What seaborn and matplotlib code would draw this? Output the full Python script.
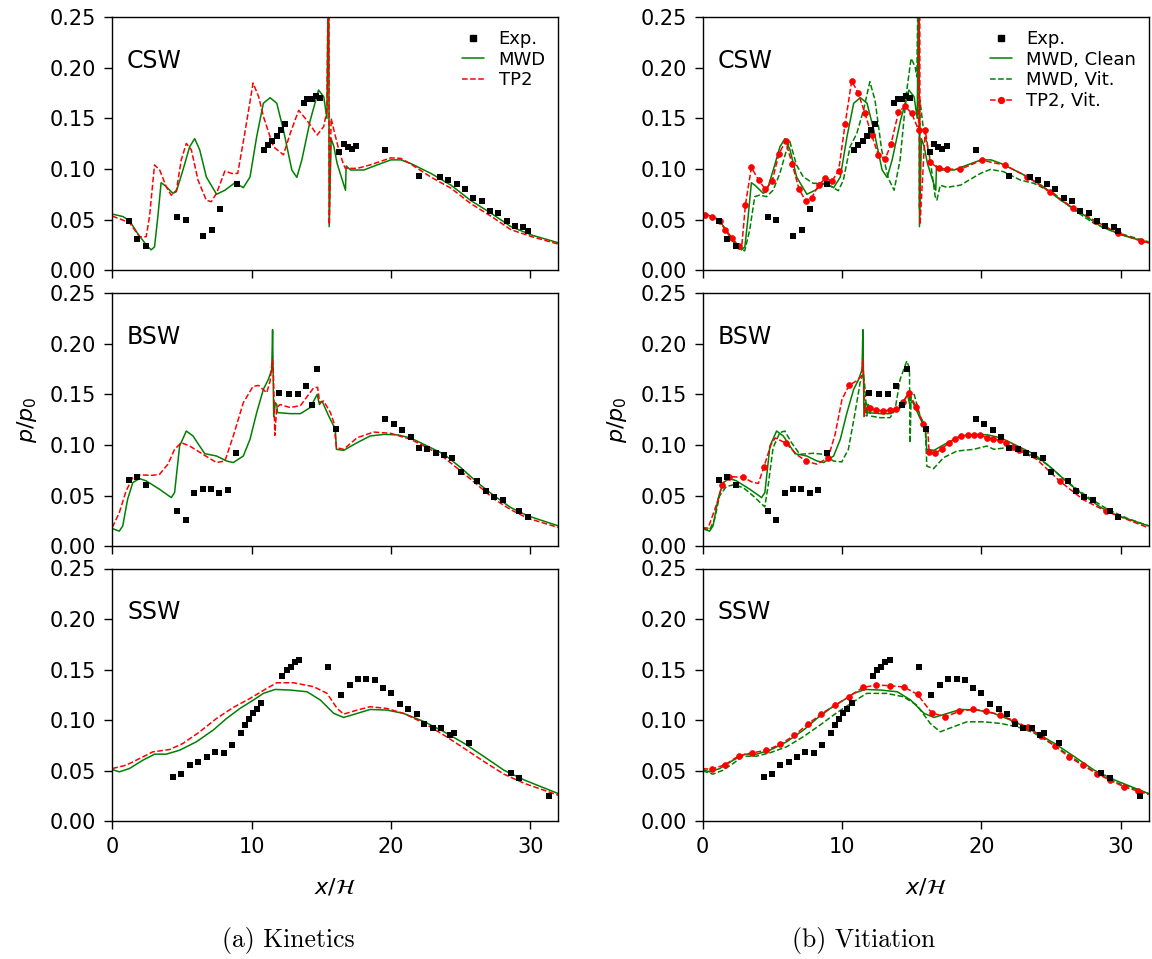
import matplotlib
matplotlib.use("Agg")
import matplotlib.pyplot as plt
from matplotlib.lines import Line2D
from matplotlib.ticker import FormatStrFormatter
import seaborn as sns

# ---------------- data ----------------
cases = ["CSW", "BSW", "SSW"]

# Experiment
csw_exp_x = [1.18, 1.78, 2.4, 4.66, 5.29, 6.49, 7.12, 7.72, 8.92, 10.87, 11.18, 11.49, 11.8, 12.09, 12.38,
             13.73, 14.0, 14.3, 14.6, 14.9, 16.3, 16.6, 16.9, 17.19, 17.5, 19.6, 22.0, 23.5, 24.1, 24.7,
             25.3, 25.9, 26.5, 27.1, 27.7, 28.3, 28.9, 29.5, 29.8]
csw_exp_y = [0.049, 0.031, 0.0234, 0.0528, 0.0495, 0.0336, 0.040, 0.060, 0.0848, 0.119, 0.1237, 0.128, 0.133, 0.139,
             0.144, 0.165, 0.1695, 0.169, 0.1725, 0.170, 0.1168, 0.1243, 0.122, 0.1197, 0.123, 0.119, 0.0927,
             0.0923, 0.089, 0.085, 0.0798, 0.0716, 0.0686, 0.0587, 0.056, 0.0485, 0.0435, 0.0429, 0.039]
bsw_exp_x = [1.18, 1.78, 2.4, 4.66, 5.29, 5.89, 6.49, 7.09, 7.69, 8.29, 8.89, 11.97, 12.69, 13.3, 13.9, 14.3,
             14.69, 16.06, 19.6, 20.2, 20.8, 21.4, 22.0, 22.6, 23.2, 23.8, 24.4, 25.0, 26.2, 26.8, 27.4, 28.0,
             29.2, 29.8]
bsw_exp_y = [0.0658, 0.068, 0.060, 0.0345, 0.0257, 0.0523, 0.0566, 0.0569, 0.0523, 0.0553, 0.0921, 0.1516,
             0.150, 0.150, 0.158, 0.1395, 0.1753, 0.116, 0.1257, 0.1207, 0.1145, 0.108, 0.0974, 0.0964, 0.0924,
             0.0898, 0.0872, 0.0737, 0.0645, 0.0546, 0.0484, 0.046, 0.0345, 0.029]
ssw_exp_x = [4.38, 4.95, 5.58, 6.18, 6.78, 7.38, 7.98, 8.58, 9.2, 9.5, 9.78, 10.1, 10.38, 10.7, 12.21, 12.5,
             12.81, 13.1, 13.41, 15.5, 16.4, 17.02, 17.62, 18.22, 18.82, 19.42, 20.0, 20.65, 21.25, 21.83,
             22.4, 23.0, 23.6, 24.2, 24.5, 25.6, 28.6, 29.2, 31.35]
ssw_exp_y = [0.0436, 0.0472, 0.0561, 0.0591, 0.0634, 0.0687, 0.0677, 0.0753, 0.0875, 0.0951, 0.1007, 0.107,
             0.1113, 0.1172, 0.1433, 0.1493, 0.1529, 0.1572, 0.1595, 0.1522, 0.1252, 0.1344, 0.141, 0.141,
             0.1397, 0.1321, 0.1268, 0.1156, 0.1113, 0.1057, 0.0958, 0.0925, 0.0921, 0.0855, 0.0875, 0.077,
             0.0476, 0.0433, 0.0251]

# MWD (clean)
csw_mwd_x = [0, 0.75, 1.23, 1.83, 2.43, 2.79, 3.03, 3.27, 3.5, 3.75, 4.35, 4.59, 5.07, 5.55, 5.91, 6.27, 6.75,
             7.48, 8.08, 8.8, 9.4, 9.88, 10.36, 10.84, 11.32, 11.8, 12.28, 12.88, 13.24, 13.6, 14.2, 14.8,
             15.17, 15.4, 15.5, 15.53, 15.56, 15.7, 15.9, 16.13, 16.73, 16.78, 17.1, 18.05, 19.0, 19.98, 20.7,
             21.4, 22.86, 24.3, 25.7, 27.2, 28.6, 30.1, 32]
csw_mwd_y = [0.0554, 0.053, 0.049, 0.036, 0.025, 0.020, 0.023, 0.053, 0.0864, 0.084, 0.076, 0.0775, 0.099,
             0.122, 0.130, 0.119, 0.092, 0.075, 0.079, 0.0864, 0.0815, 0.092, 0.132, 0.165, 0.1705, 0.165,
             0.1385, 0.099, 0.0917, 0.109, 0.148, 0.178, 0.1715, 0.150, 0.30, 0.30, 0.043, 0.130, 0.122,
             0.1055, 0.079, 0.103, 0.099, 0.099, 0.104, 0.109, 0.109, 0.1055, 0.0956, 0.084, 0.069, 0.056,
             0.043, 0.0346, 0.027]
bsw_mwd_x = [0, 0.26, 0.5, 0.75, 1.1, 1.47, 1.95, 2.43, 3.39, 4.23, 4.47, 4.83, 5.31, 5.79, 6.63, 7.48, 8.2,
             8.68, 9.4, 9.88, 10.36, 10.84, 11.2, 11.44, 11.5, 11.58, 11.7, 11.8, 11.85, 12.76, 13.5, 14.2,
             14.7, 14.86, 15.05, 15.53, 16.0, 16.08, 16.6, 17.57, 18.5, 19.5, 20.46, 21.4, 22.6, 23.8, 25.0,
             26.2, 27.4, 28.6, 29.8, 32]
bsw_mwd_y = [0.0174, 0.016, 0.0148, 0.020, 0.0464, 0.0628, 0.0668, 0.0645, 0.0562, 0.048, 0.053, 0.099,
             0.1138, 0.1089, 0.0914, 0.0891, 0.0842, 0.0826, 0.0891, 0.1056, 0.132, 0.155, 0.165, 0.1747,
             0.214, 0.128, 0.1418, 0.14, 0.132, 0.131, 0.131, 0.137, 0.150, 0.140, 0.1434, 0.1286, 0.1155,
             0.0957, 0.0947, 0.1023, 0.1089, 0.1105, 0.110, 0.107, 0.099, 0.0908, 0.0776, 0.0628, 0.0497,
             0.038, 0.030, 0.020]
ssw_mwd_x = [0, 0.5, 1.23, 2.19, 3.03, 3.87, 4.83, 6.03, 7.24, 8.2, 9.16, 10.12, 10.84, 11.68, 12.76, 13.97,
             14.93, 15.89, 16.6, 17.57, 18.5, 19.7, 20.9, 22.4, 23.8, 25.26, 26.7, 28.1, 29.6, 32]
ssw_mwd_y = [0.0512, 0.0489, 0.0522, 0.0604, 0.0664, 0.0664, 0.0703, 0.0786, 0.0902, 0.1017, 0.1116, 0.1199,
             0.1265, 0.1304, 0.1298, 0.1281, 0.1199, 0.1067, 0.1027, 0.1067, 0.1106, 0.11, 0.1067, 0.0984,
             0.0885, 0.077, 0.0637, 0.0505, 0.0406, 0.0274]

# TP2 (kinetics)
csw_tp2_x = [0, 1.23, 1.95, 2.43, 2.67, 3.03, 3.4, 3.87, 4.23, 4.6, 4.95, 5.31, 5.67, 6.15, 6.75, 7.1, 7.48,
             8.08, 8.56, 9.0, 9.5, 10.1, 10.5, 10.84, 11.56, 12.28, 12.76, 13.37, 13.97, 14.7, 15.17, 15.4,
             15.5, 15.53, 15.57, 15.7, 15.9, 16.25, 16.6, 16.73, 17.57, 18.5, 19.98, 20.7, 21.4, 22.86, 24.3,
             25.7, 27.2, 28.6, 30.1, 32]
csw_tp2_y = [0.0534, 0.047, 0.033, 0.033, 0.053, 0.104, 0.099, 0.0825, 0.074, 0.079, 0.109, 0.1253, 0.119,
             0.089, 0.069, 0.0676, 0.076, 0.098, 0.0956, 0.0956, 0.135, 0.185, 0.1715, 0.152, 0.122, 0.114,
             0.135, 0.158, 0.148, 0.1336, 0.142, 0.158, 0.30, 0.30, 0.045, 0.150, 0.1385, 0.119, 0.104,
             0.1006, 0.1006, 0.104, 0.111, 0.1105, 0.105, 0.092, 0.081, 0.066, 0.053, 0.040, 0.033, 0.0257]
bsw_tp2_x = [0, 0.5, 0.99, 1.47, 1.95, 2.9, 3.39, 3.99, 4.47, 4.95, 5.55, 6.5, 7.48, 8.08, 8.68, 9.4, 10.1,
             10.5, 11.08, 11.32, 11.49, 11.56, 11.66, 11.8, 12.04, 12.76, 13.5, 14.45, 14.73, 14.88, 15.17,
             15.65, 15.9, 16.08, 16.6, 17.57, 18.75, 19.98, 21.4, 22.6, 23.8, 25.0, 26.2, 27.4, 28.6, 29.8, 32]
bsw_tp2_y = [0.0184, 0.033, 0.0546, 0.0678, 0.0704, 0.070, 0.071, 0.081, 0.0957, 0.1023, 0.099, 0.0908,
             0.0826, 0.0842, 0.1089, 0.1418, 0.158, 0.1589, 0.1516, 0.163, 0.1845, 0.171, 0.1095, 0.137,
             0.140, 0.137, 0.139, 0.1566, 0.157, 0.142, 0.1434, 0.132, 0.122, 0.0974, 0.0957, 0.1072, 0.1128,
             0.1115, 0.1056, 0.0974, 0.0875, 0.0743, 0.0605, 0.0464, 0.0359, 0.0276, 0.0184]
ssw_tp2_x = [0, 0.99, 1.95, 2.91, 4.11, 5.07, 6.27, 7.48, 8.68, 9.88, 11.08, 11.8, 13.0, 14.45, 15.41, 16.13,
             16.6, 17.57, 18.5, 19.7, 20.9, 22.4, 23.8, 25.26, 26.7, 28.1, 29.6, 32]
ssw_tp2_y = [0.0522, 0.0555, 0.062, 0.0687, 0.071, 0.077, 0.0885, 0.1017, 0.1126, 0.1215, 0.1314, 0.137,
             0.137, 0.1331, 0.1265, 0.1116, 0.106, 0.11, 0.1133, 0.1116, 0.1067, 0.0968, 0.0852, 0.072,
             0.0588, 0.0466, 0.0373, 0.0258]

# MWD, vitiated
csw_mwdvit_x = [0, 1.23, 2.43, 3.02, 3.38, 3.74, 4.1, 4.58, 5.06, 5.54, 6.02, 6.26, 6.74, 7.22, 7.94, 8.66,
                9.26, 9.74, 10.1, 10.58, 11.06, 11.54, 12.0, 12.37, 12.85, 13.33, 13.74, 14.17, 14.65, 14.96,
                15.25, 15.37, 15.48, 15.52, 15.56, 15.6, 15.85, 16.1, 16.33, 16.69, 16.81, 17.05, 17.53, 18.5,
                19.93, 20.65, 21.6, 22.8, 23.77, 25.2, 26.64, 28.08, 29.52, 32]
csw_mwdvit_y = [0.055, 0.049, 0.023, 0.019, 0.0396, 0.0726, 0.0742, 0.0726, 0.079, 0.0956, 0.1187, 0.127,
                0.1039, 0.0923, 0.0858, 0.0858, 0.0825, 0.0785, 0.089, 0.122, 0.135, 0.158, 0.1863, 0.168,
                0.1187, 0.0907, 0.079, 0.109, 0.178, 0.2094, 0.201, 0.191, 0.30, 0.30, 0.06, 0.168, 0.1385,
                0.125, 0.109, 0.0726, 0.0693, 0.084, 0.0818, 0.084, 0.0956, 0.0996, 0.0973, 0.089, 0.0858,
                0.0759, 0.0594, 0.0462, 0.0379, 0.028]
bsw_mwdvit_x = [0, 0.5, 0.86, 1.22, 1.7, 2.18, 2.9, 3.62, 4.46, 4.7, 5.06, 5.54, 5.9, 6.38, 6.98, 7.94, 8.66,
                9.38, 9.98, 10.46, 10.94, 11.3, 11.54, 11.66, 11.78, 11.9, 12.06, 12.74, 13.45, 13.81, 14.17,
                14.65, 14.84, 14.89, 14.96, 15.18, 15.61, 15.97, 16.09, 16.57, 17.29, 18.25, 19.45, 20.4, 20.9,
                21.85, 22.8, 23.76, 24.7, 26.16, 27.6, 29.04, 30.5, 32]
bsw_mwdvit_y = [0.018, 0.016, 0.0266, 0.0497, 0.0589, 0.0605, 0.058, 0.0497, 0.0388, 0.0595, 0.0974, 0.1122,
                0.1138, 0.1023, 0.0908, 0.0918, 0.0908, 0.0842, 0.0832, 0.0957, 0.132, 0.1615, 0.171, 0.155,
                0.1286, 0.140, 0.1286, 0.127, 0.127, 0.135, 0.1648, 0.183, 0.176, 0.102, 0.148, 0.150, 0.1286,
                0.1187, 0.079, 0.0766, 0.0875, 0.094, 0.0957, 0.099, 0.0957, 0.0974, 0.094, 0.0891, 0.0809,
                0.0635, 0.049, 0.0365, 0.0273, 0.020]
ssw_mwdvit_x = [0, 0.74, 1.46, 2.18, 2.9, 3.86, 4.82, 6.02, 7.22, 8.42, 9.62, 10.82, 11.77, 13.2, 14.4, 15.37,
                16.33, 17.05, 18.0, 18.97, 20.17, 21.37, 22.57, 23.76, 25.2, 26.64, 28.08, 29.52, 32]
ssw_mwdvit_y = [0.050, 0.0466, 0.0505, 0.0571, 0.0644, 0.0644, 0.0677, 0.0736, 0.0836, 0.0951, 0.1073,
                0.1182, 0.1265, 0.1265, 0.1232, 0.1149, 0.0968, 0.0885, 0.0935, 0.0984, 0.0984, 0.0968,
                0.0935, 0.0875, 0.0753, 0.0621, 0.0489, 0.039, 0.0274]

# TP2, vitiated
csw_tp2vit_x = [0, 0.14, 0.67, 1.22, 1.63, 2.11, 2.59, 2.8, 3.07, 3.5, 4.03, 4.51, 4.99, 5.47, 5.95, 6.43,
                6.91, 7.39, 7.82, 8.32, 8.8, 9.28, 9.76, 10.22, 10.7, 11.17, 11.65, 12.13, 12.61, 13.09, 13.52,
                14.05, 14.53, 15.0, 15.5, 15.55, 15.58, 15.6, 15.97, 16.33, 16.93, 17.53, 18.45, 20.03, 21.68,
                23.31, 24.91, 26.58, 28.21, 29.81, 31.49, 32]
csw_tp2vit_y = [0.055, 0.0544, 0.0528, 0.0488, 0.040, 0.032, 0.0237, 0.022, 0.0643, 0.1016, 0.0887, 0.0798,
                0.088, 0.1148, 0.1276, 0.1049, 0.0805, 0.0683, 0.0716, 0.0838, 0.0907, 0.088, 0.0983, 0.144,
                0.1873, 0.1748, 0.155, 0.1336, 0.1138, 0.1095, 0.1247, 0.156, 0.1623, 0.155, 0.1385, 0.30,
                0.30, 0.045, 0.1385, 0.1065, 0.1006, 0.10, 0.0995, 0.1087, 0.1038, 0.0922, 0.0774, 0.0616,
                0.0484, 0.0363, 0.0287, 0.027]
csw_tp2vit_marks = [i for i in range(52) if i not in (0, 7, 35, 36, 37, 51)]
bsw_tp2vit_x = [0, 0.4, 1.1, 1.39, 1.87, 2.9, 3.6, 4.0, 4.4, 4.9, 5.2, 5.96, 6.8, 7.44, 8.2, 9.0, 9.5, 10.0,
                10.5, 11.0, 11.4, 11.5, 11.56, 11.62, 11.75, 11.99, 12.47, 12.95, 13.43, 13.9, 14.38, 14.79,
                15.34, 15.82, 16.15, 16.25, 16.7, 17.18, 17.66, 18.14, 18.57, 19.05, 19.48, 19.93, 20.41,
                20.84, 21.32, 21.8, 22.28, 22.71, 24.0, 25.63, 27.3, 28.93, 32]
bsw_tp2vit_y = [0.018, 0.018, 0.045, 0.0605, 0.0688, 0.068, 0.063, 0.062, 0.0784, 0.100, 0.107, 0.102, 0.090,
                0.084, 0.081, 0.0872, 0.110, 0.145, 0.1589, 0.163, 0.168, 0.1845, 0.165, 0.1286, 0.138, 0.1367,
                0.1344, 0.1337, 0.1344, 0.136, 0.1426, 0.151, 0.1377, 0.121, 0.117, 0.0932, 0.0916, 0.0965,
                0.102, 0.1064, 0.109, 0.1095, 0.110, 0.110, 0.107, 0.106, 0.1047, 0.1015, 0.0978, 0.0949,
                0.0855, 0.0642, 0.046, 0.0346, 0.018]
bsw_tp2vit_marks = [3, 4, 5, 8, 11, 13, 15, 18] + list(range(25, 34)) + list(range(35, 50)) + [51, 53]
ssw_tp2vit_x = [0, 0.65, 1.63, 2.59, 3.57, 4.58, 5.56, 6.57, 7.53, 8.51, 9.52, 10.5, 11.49, 12.47, 13.45,
                14.44, 15.42, 16.43, 17.41, 18.42, 19.38, 20.36, 21.37, 22.35, 23.33, 24.29, 25.28, 26.28,
                27.27, 28.27, 29.26, 30.24, 31.27, 32]
ssw_tp2vit_y = [0.052, 0.0515, 0.0561, 0.0647, 0.0677, 0.0703, 0.076, 0.0849, 0.0958, 0.1063, 0.1149, 0.1232,
                0.1324, 0.1347, 0.1341, 0.1328, 0.1255, 0.1073, 0.1034, 0.1087, 0.1106, 0.109, 0.105, 0.0994,
                0.0928, 0.0845, 0.0743, 0.0637, 0.0555, 0.0472, 0.0406, 0.034, 0.0297, 0.0265]
ssw_tp2vit_marks = list(range(1, 33))

y_ticks = [0.00, 0.05, 0.10, 0.15, 0.20, 0.25]
x_ticks = [0, 10, 20, 30]
captions = ["(a) Kinetics", "(b) Vitiation"]

data = {
    "CSW": dict(exp=(csw_exp_x, csw_exp_y), mwd=(csw_mwd_x, csw_mwd_y), tp2=(csw_tp2_x, csw_tp2_y),
                mwdvit=(csw_mwdvit_x, csw_mwdvit_y), tp2vit=(csw_tp2vit_x, csw_tp2vit_y),
                marks=csw_tp2vit_marks),
    "BSW": dict(exp=(bsw_exp_x, bsw_exp_y), mwd=(bsw_mwd_x, bsw_mwd_y), tp2=(bsw_tp2_x, bsw_tp2_y),
                mwdvit=(bsw_mwdvit_x, bsw_mwdvit_y), tp2vit=(bsw_tp2vit_x, bsw_tp2vit_y),
                marks=bsw_tp2vit_marks),
    "SSW": dict(exp=(ssw_exp_x, ssw_exp_y), mwd=(ssw_mwd_x, ssw_mwd_y), tp2=(ssw_tp2_x, ssw_tp2_y),
                mwdvit=(ssw_mwdvit_x, ssw_mwdvit_y), tp2vit=(ssw_tp2vit_x, ssw_tp2vit_y),
                marks=ssw_tp2vit_marks),
}

# ---------------- style ----------------
sns.set_style("ticks")
plt.rcParams.update({
    "font.family": ["DejaVu Sans"],
    "mathtext.fontset": "dejavusans",
    "axes.edgecolor": "black",
    "axes.labelcolor": "black",
    "text.color": "black",
    "xtick.color": "black",
    "ytick.color": "black",
    "axes.linewidth": 1.0,
    "xtick.major.width": 1.0,
    "ytick.major.width": 1.0,
    "xtick.major.size": 5.5,
    "ytick.major.size": 5.5,
    "xtick.major.pad": 6,
    "ytick.major.pad": 6,
    "xtick.direction": "out",
    "ytick.direction": "out",
    "lines.dashed_pattern": [3.7, 1.6],
})

fig = plt.figure(figsize=(11.52, 9.59), dpi=100)
W, H = 1152, 959
col_left = [112.3, 702.6]
col_w = 446
row_top = [17.3, 293.3, 568.5]
row_h = 252.8

LW = 1.1
for c in range(2):
    for r, case in enumerate(cases):
        ax = fig.add_axes([col_left[c] / W, 1 - (row_top[r] + row_h) / H, col_w / W, row_h / H])
        d = data[case]
        sns.lineplot(x=d["mwd"][0], y=d["mwd"][1], ax=ax, color="green", lw=LW,
                     sort=False, estimator=None, zorder=2)
        if c == 0:
            sns.lineplot(x=d["tp2"][0], y=d["tp2"][1], ax=ax, color="red", lw=LW, linestyle="--",
                         sort=False, estimator=None, zorder=2)
        else:
            sns.lineplot(x=d["mwdvit"][0], y=d["mwdvit"][1], ax=ax, color="green", lw=LW,
                         linestyle="--", sort=False, estimator=None, zorder=2)
            sns.lineplot(x=d["tp2vit"][0], y=d["tp2vit"][1], ax=ax, color="red", lw=LW,
                         linestyle="--", marker="o", markersize=4.2, markevery=d["marks"],
                         markeredgecolor="red", markerfacecolor="red", markeredgewidth=0.5,
                         sort=False, estimator=None, zorder=2)
        sns.scatterplot(x=d["exp"][0], y=d["exp"][1], ax=ax, marker="s", color="black", s=17,
                        linewidth=0, zorder=3, legend=False)

        ax.set_xlim(0, 32)
        ax.set_ylim(0, 0.25)
        ax.set_xticks(x_ticks)
        ax.set_yticks(y_ticks)
        ax.yaxis.set_major_formatter(FormatStrFormatter("%.2f"))
        ax.tick_params(labelsize=15, top=False, right=False)
        for s in ax.spines.values():
            s.set_visible(True)
            s.set_color("black")
        ax.set_xlabel("")
        ax.set_ylabel("")
        if r < 2:
            ax.tick_params(labelbottom=False)
        else:
            ax.set_xlabel(r"$x/\mathcal{H}$", fontsize=16, labelpad=14)
        if r == 1:
            ax.set_ylabel(r"$p/p_0$", fontsize=16, labelpad=8)
        ax.text(0.033, 0.828, case, transform=ax.transAxes, fontsize=17, va="center", ha="left")

        if r == 0:
            if c == 0:
                handles = [Line2D([], [], color="black", marker="s", ls="none", markersize=4.2),
                           Line2D([], [], color="green", lw=LW),
                           Line2D([], [], color="red", lw=LW, ls="--")]
                labels = ["Exp.", "MWD", "TP2"]
            else:
                handles = [Line2D([], [], color="black", marker="s", ls="none", markersize=4.2),
                           Line2D([], [], color="green", lw=LW),
                           Line2D([], [], color="green", lw=LW, ls="--"),
                           Line2D([], [], color="red", lw=LW, ls="--", marker="o", markersize=4.2)]
                labels = ["Exp.", "MWD, Clean", "MWD, Vit.", "TP2, Vit."]
            ax.legend(handles, labels, loc="upper right", frameon=False, fontsize=13,
                      handlelength=1.2, handletextpad=0.8, labelspacing=0.15,
                      borderaxespad=0.3, numpoints=1)

caption_x = [288, 864]
for c in range(2):
    fig.text(caption_x[c] / W, 1 - 940 / H, captions[c], ha="center", va="center", fontsize=18.5,
             fontfamily="cmr10")

fig.savefig("out.png", dpi=100)
